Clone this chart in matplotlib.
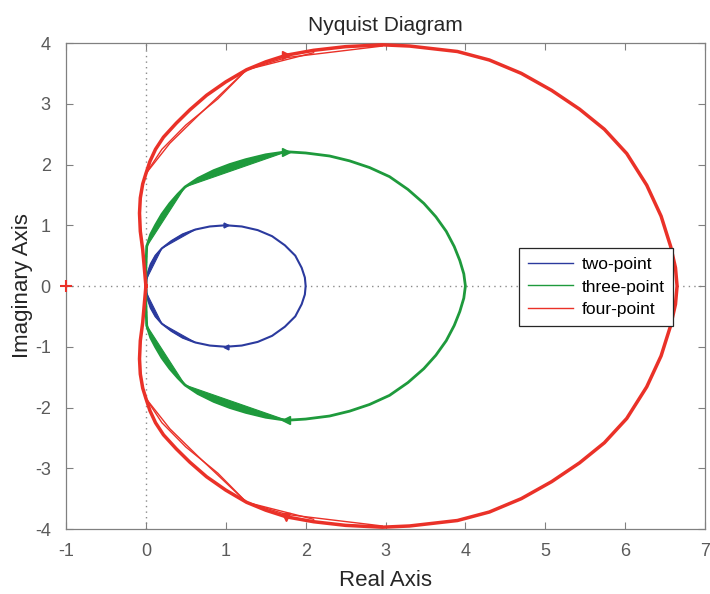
import matplotlib
matplotlib.use("Agg")
import matplotlib.pyplot as plt
import numpy as np

plt.rcParams['font.family'] = ['Liberation Sans', 'DejaVu Sans']
plt.rcParams['axes.unicode_minus'] = False

# Upper (positive-frequency) branches, as (real, imag) vertices
two_x = [0.0, 0.01, 0.03, 0.06, 0.12, 0.20, 0.32, 0.46, 0.62, 0.80, 1.00, 1.20, 1.40, 1.58, 1.74, 1.87, 1.95, 1.99, 2.00]
two_y = [0.0, 0.12, 0.24, 0.36, 0.50, 0.62, 0.74, 0.85, 0.93, 0.98, 1.00, 0.98, 0.92, 0.82, 0.67, 0.50, 0.30, 0.14, 0.00]

three_x = [0.0, 0.0, 0.01, 0.06, 0.12, 0.20, 0.30, 0.40, 0.49, 0.65, 0.85, 1.05, 1.25, 1.50, 1.76,
           2.00, 2.30, 2.55, 2.80, 3.05, 3.28, 3.48, 3.63, 3.76, 3.86, 3.93, 3.98, 4.00]
three_y = [0.0, 0.30, 0.65, 0.85, 1.00, 1.18, 1.36, 1.51, 1.63, 1.77, 1.90, 2.00, 2.08, 2.16, 2.21,
           2.19, 2.14, 2.06, 1.95, 1.80, 1.59, 1.36, 1.14, 0.90, 0.65, 0.42, 0.20, 0.00]

four_x = [0.0, -0.02, -0.04, -0.07, -0.08, -0.07, -0.04, 0.00, 0.05, 0.12, 0.22, 0.38, 0.55, 0.76, 1.00,
          1.26, 1.50, 1.76, 2.10, 2.50, 2.96, 3.30, 3.90, 4.30, 4.70, 5.08, 5.43, 5.74, 6.02, 6.27,
          6.45, 6.57, 6.63, 6.65]
four_y = [0.0, 0.30, 0.60, 0.90, 1.20, 1.45, 1.68, 1.85, 2.05, 2.25, 2.45, 2.68, 2.90, 3.14, 3.36,
          3.56, 3.69, 3.80, 3.88, 3.94, 3.97, 3.95, 3.86, 3.72, 3.50, 3.22, 2.91, 2.58, 2.18, 1.66,
          1.15, 0.65, 0.30, 0.00]
# extra coarse-grid strands of the four-point response
four_coarse_x = [0.0, 0.30, 0.65, 1.26, 1.76, 2.96]
four_coarse_y = [1.85, 2.35, 2.80, 3.56, 3.76, 3.95]
four_mid_x = [0.0, 0.20, 0.50, 0.90, 1.26, 2.10]
four_mid_y = [1.85, 2.25, 2.65, 3.08, 3.56, 3.84]

# vertex spans where the coarse chord and the fine curve enclose a wedge
two_wedges = [(1, 5), (5, 8)]
three_wedges = [(2, 8), (8, 14)]
four_wedges = []

labels = ["two-point", "three-point", "four-point"]
colors = ["#2b3a9e", "#1e9a3c", "#ea3128"]
widths = [1.5, 2.0, 2.5]

# Index of the vertex that carries the direction arrow on each branch
arrow_idx = [10, 14, 17]

x_ticks = [-1, 0, 1, 2, 3, 4, 5, 6, 7]
y_ticks = [-4, -3, -2, -1, 0, 1, 2, 3, 4]


def full_branch(xs, ys):
    """Join the positive-frequency branch with its complex conjugate."""
    xs = np.asarray(xs, float)
    ys = np.asarray(ys, float)
    return np.concatenate([xs, xs[::-1]]), np.concatenate([ys, -ys[::-1]])


fig = plt.figure(figsize=(7.10, 5.94), dpi=100)
ax = fig.add_axes([0.093, 0.1094, 0.9, 0.8182])

ax.axhline(0, color="#8a8a8a", linestyle=(0, (1, 3)), linewidth=1.0, zorder=1)
ax.axvline(0, color="#8a8a8a", linestyle=(0, (1, 3)), linewidth=1.0, zorder=1)

series = [
    (two_x, two_y, [], two_wedges),
    (three_x, three_y, [], three_wedges),
    (four_x, four_y, [(four_coarse_x, four_coarse_y), (four_mid_x, four_mid_y)], four_wedges),
]

for (xs, ys, extras, wedges), lab, col, lw, ai in zip(series, labels, colors, widths, arrow_idx):
    fx, fy = full_branch(xs, ys)
    ax.plot(fx, fy, color=col, linewidth=lw, label=lab, zorder=3, solid_joinstyle="round")
    xa = np.asarray(xs, float)
    ya = np.asarray(ys, float)
    for i, j in wedges:
        ax.fill(xa[i:j + 1], ya[i:j + 1], color=col, linewidth=0.8, zorder=3)
        ax.fill(xa[i:j + 1], -ya[i:j + 1], color=col, linewidth=0.8, zorder=3)
    for ex, ey in extras:
        ex = np.asarray(ex, float)
        ey = np.asarray(ey, float)
        ax.plot(ex, ey, color=col, linewidth=1.0, zorder=3)
        ax.plot(ex, -ey, color=col, linewidth=1.0, zorder=3)
    ms = 6 if col != colors[0] else 3.5
    ax.plot(xa[ai], ya[ai], marker=">", color=col, markersize=ms, zorder=4, linestyle="none")
    ax.plot(xa[ai], -ya[ai], marker="v" if col == colors[2] else "<", color=col,
            markersize=ms, zorder=4, linestyle="none")

# Critical point
ax.plot(-1, 0, marker="+", color="#ea3128", markersize=9, markeredgewidth=1.5, zorder=4,
        clip_on=False, linestyle="none")

ax.set_xlim(-1, 7)
ax.set_ylim(-4, 4)
ax.set_xticks(x_ticks)
ax.set_yticks(y_ticks)
ax.tick_params(direction="in", top=True, right=True, length=5, width=0.8,
               labelsize=13, colors="#808080", labelcolor="#5a5a5a")
ax.tick_params(axis="x", pad=10)
ax.tick_params(axis="y", pad=11)
for s in ax.spines.values():
    s.set_color("#808080")
    s.set_linewidth(0.9)

ax.set_title("Nyquist Diagram", fontsize=15, color="#262626", pad=9)
ax.set_xlabel("Real Axis", fontsize=16, color="#262626")
ax.set_ylabel("Imaginary Axis", fontsize=16, color="#262626")
ax.xaxis.set_label_coords(0.5, -0.085)
ax.yaxis.set_label_coords(-0.052, 0.5)

leg = ax.legend(loc="center right", bbox_to_anchor=(0.950, 0.498), fontsize=12.5,
                frameon=True, fancybox=False, edgecolor="#262626", framealpha=1,
                handlelength=2.6, handletextpad=0.5, borderpad=0.5, labelspacing=0.42,
                borderaxespad=0)
leg.get_frame().set_linewidth(0.9)
for h in leg.get_lines():
    h.set_linewidth(1.0)

fig.savefig("out.png", dpi=100)
